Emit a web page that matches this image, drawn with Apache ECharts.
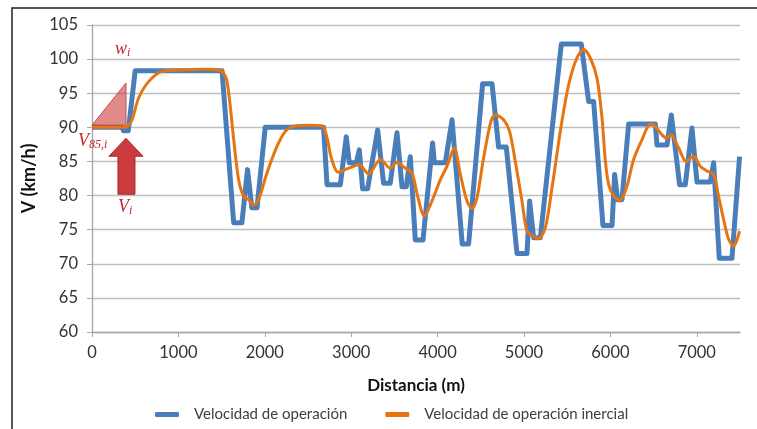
<!DOCTYPE html>
<html>
<head>
<meta charset="utf-8">
<script src="https://cdn.jsdelivr.net/npm/echarts@6.0.0/dist/echarts.min.js"></script>
<style>
  html, body { margin: 0; padding: 0; background: #fff; }
  #chart { width: 757px; height: 429px; }
</style>
</head>
<body>
<div id="chart"></div>
<script>
// Velocidad de operación (perfil por tramos)
const operX = [0, 350, 365, 420, 500, 1505, 1640, 1735, 1800, 1850, 1910, 2005, 2680, 2720, 2874,
  2943, 2978, 3059, 3094, 3132, 3190, 3306, 3375, 3452, 3530, 3588, 3638, 3684, 3742, 3831, 3942,
  3962, 4089, 4167, 4285, 4359, 4521, 4630, 4706, 4795, 4919, 5035, 5065, 5111, 5189, 5432, 5663,
  5748, 5806, 5914, 6019, 6049, 6083, 6134, 6211, 6520, 6539, 6655, 6705, 6801, 6867, 6944, 7002,
  7156, 7195, 7260, 7407, 7495];
const operV = [90.0, 90.0, 89.5, 89.5, 98.3, 98.3, 76.0, 76.0, 83.8, 78.2, 78.2, 90.0, 90.0, 81.6, 81.6,
  88.6, 84.8, 84.8, 86.7, 81.0, 81.0, 89.6, 81.8, 81.8, 89.2, 81.3, 81.3, 85.7, 73.5, 73.5, 87.7,
  84.8, 84.8, 91.1, 72.9, 72.9, 96.4, 96.4, 87.1, 87.1, 71.5, 71.5, 79.2, 73.8, 73.8, 102.2, 102.2,
  93.8, 93.8, 75.6, 75.6, 83.1, 79.4, 79.4, 90.5, 90.5, 87.4, 87.4, 91.8, 81.6, 81.6, 89.9, 82.0,
  82.0, 84.8, 70.8, 70.8, 85.7];

// Velocidad de operación inercial (curva suavizada)
const inerX = [0, 380, 405, 463, 540, 655, 810, 1000, 1300, 1480, 1530, 1562, 1600, 1640, 1697, 1755,
  1813, 1870, 1928, 2025, 2141, 2237, 2320, 2500, 2662, 2720, 2770, 2850, 2950, 3090, 3200, 3340,
  3450, 3530, 3626, 3704, 3769, 3846, 3935, 4031, 4109, 4193, 4263, 4340, 4398, 4456, 4532, 4618,
  4668, 4764, 4833, 4899, 4977, 5035, 5111, 5169, 5247, 5324, 5420, 5516, 5613, 5690, 5766, 5845,
  5903, 5940, 5980, 6040, 6110, 6192, 6269, 6366, 6462, 6500, 6597, 6655, 6701, 6789, 6878, 6963,
  7040, 7118, 7195, 7252, 7310, 7368, 7426, 7495];
const inerV = [90.0, 90.0, 90.1, 91.1, 94.3, 96.7, 98.2, 98.4, 98.5, 98.4, 97.8, 96.8, 93.1, 88.2, 82.3, 79.9,
  79.4, 78.6, 79.4, 83.3, 87.2, 89.4, 90.1, 90.3, 90.2, 88.5, 85.5, 83.4, 83.9, 84.5, 83.2, 85.3,
  84.0, 84.9, 84.0, 83.3, 79.9, 77.0, 79.2, 82.3, 84.3, 87.0, 83.1, 79.2, 78.1, 79.7, 85.5, 90.9,
  91.85, 91.1, 89.4, 85.0, 79.2, 74.8, 74.0, 73.7, 75.3, 81.1, 89.4, 96.2, 100.2, 101.4, 100.2, 97.2,
  91.4, 85.3, 81.6, 79.9, 79.3, 81.4, 85.3, 88.2, 90.5, 90.4, 88.9, 88.4, 88.9, 87.0, 85.0, 85.75,
  84.3, 83.6, 83.1, 79.9, 76.5, 73.6, 72.6, 74.8];

const xTicks = [0, 1000, 2000, 3000, 4000, 5000, 6000, 7000];

// punto de transición marcado en la figura (x en m, V en km/h)
const markX = 393;
const markV85 = 90.3;
const markW = 96.5;
const markVi = 88.4;

const font = 'Lato, "Open Sans", sans-serif';
const chart = echarts.init(document.getElementById('chart'), null, { renderer: 'canvas' });

chart.setOption({
  animation: false,
  backgroundColor: '#fff',
  grid: { left: 92, right: 17, top: 25, bottom: 97 },
  legend: {
    left: 150,
    top: 402,
    icon: 'roundRect',
    itemWidth: 24,
    itemHeight: 5,
    itemGap: 38,
    textStyle: { fontFamily: font, fontSize: 15, color: '#404040', padding: [0, 0, 0, 10] },
    data: ['Velocidad de operación', 'Velocidad de operación inercial']
  },
  xAxis: {
    type: 'value',
    min: 0,
    max: 7500,
    interval: 1000,
    name: 'Distancia (m)',
    nameLocation: 'middle',
    nameGap: 45,
    nameTextStyle: { fontFamily: font, fontSize: 17, fontWeight: 'bold', color: '#111' },
    axisLine: { show: true, lineStyle: { color: '#a6a6a6', width: 1.3 } },
    axisTick: { show: true, length: 5, customValues: xTicks, lineStyle: { color: '#a6a6a6' } },
    axisLabel: {
      customValues: xTicks, margin: 12, fontFamily: font, fontSize: 16.5, color: '#333',
      formatter: (v) => String(v)
    },
    splitLine: { show: false }
  },
  yAxis: {
    type: 'value',
    min: 60,
    max: 105,
    interval: 5,
    name: 'V (km/h)',
    nameLocation: 'middle',
    nameGap: 48,
    nameTextStyle: { fontFamily: font, fontSize: 18, fontWeight: 'bold', color: '#111' },
    axisLine: { show: true, lineStyle: { color: '#a6a6a6', width: 1.3 } },
    axisTick: { show: true, length: 5, lineStyle: { color: '#a6a6a6' } },
    axisLabel: { margin: 14, fontFamily: font, fontSize: 16.5, color: '#333' },
    splitLine: { lineStyle: { color: '#bfbfbf', width: 1.3 } }
  },
  series: [
    {
      name: 'Velocidad de operación',
      type: 'line',
      data: operX.map((x, i) => [x, operV[i]]),
      symbol: 'none',
      color: '#4a7ebb',
      lineStyle: { width: 5, color: '#4a7ebb', join: 'round' },
      z: 2
    },
    {
      name: 'Velocidad de operación inercial',
      type: 'line',
      data: inerX.map((x, i) => [x, inerV[i]]),
      symbol: 'none',
      smooth: 0.3,
      color: '#e8740f',
      lineStyle: { width: 3, color: '#e8740f' },
      z: 3
    }
  ]
});

// anotaciones en rojo
const p0 = chart.convertToPixel({ gridIndex: 0 }, [0, markV85]);
const pB = chart.convertToPixel({ gridIndex: 0 }, [markX, markV85]);
const pT = chart.convertToPixel({ gridIndex: 0 }, [markX, markW]);
const pA = chart.convertToPixel({ gridIndex: 0 }, [markX, markVi]);
const red = '#c0282d';
const mathFont = '"Liberation Serif", "DejaVu Serif", serif';
const mathRich = {
  m: { fontFamily: mathFont, fontStyle: 'italic', fontSize: 18, fill: red },
  s: { fontFamily: mathFont, fontStyle: 'italic', fontSize: 12, fill: red, padding: [8, 0, 0, 0] }
};

chart.setOption({
  graphic: [
    {
      type: 'rect',
      shape: { x: 12, y: 8, width: 800, height: 500 },
      style: { fill: 'none', stroke: '#222', lineWidth: 1.5 },
      z: 1
    },
    {
      type: 'polygon',
      shape: { points: [p0, pB, pT] },
      style: { fill: 'rgba(205,60,60,0.6)', stroke: '#c0504d', lineWidth: 1 },
      z: 100
    },
    {
      type: 'polygon',
      shape: {
        points: [
          [pA[0], pA[1]],
          [pA[0] + 17, pA[1] + 18],
          [pA[0] + 9, pA[1] + 18],
          [pA[0] + 9, pA[1] + 56],
          [pA[0] - 8, pA[1] + 56],
          [pA[0] - 8, pA[1] + 18],
          [pA[0] - 17, pA[1] + 18]
        ]
      },
      style: { fill: '#cc3b3e', stroke: '#a8272a', lineWidth: 1 },
      z: 100
    },
    {
      type: 'text',
      x: pT[0] - 11, y: pT[1] - 44,
      style: { text: '{m|w}{s|i}', rich: mathRich },
      z: 100
    },
    {
      type: 'text',
      x: pB[0] - 48, y: pB[1] + 6,
      style: { text: '{m|V}{s|85,i}', rich: mathRich },
      z: 100
    },
    {
      type: 'text',
      x: pA[0] - 8, y: pA[1] + 59,
      style: { text: '{m|V}{s|i}', rich: mathRich },
      z: 100
    }
  ]
});
</script>
</body>
</html>
